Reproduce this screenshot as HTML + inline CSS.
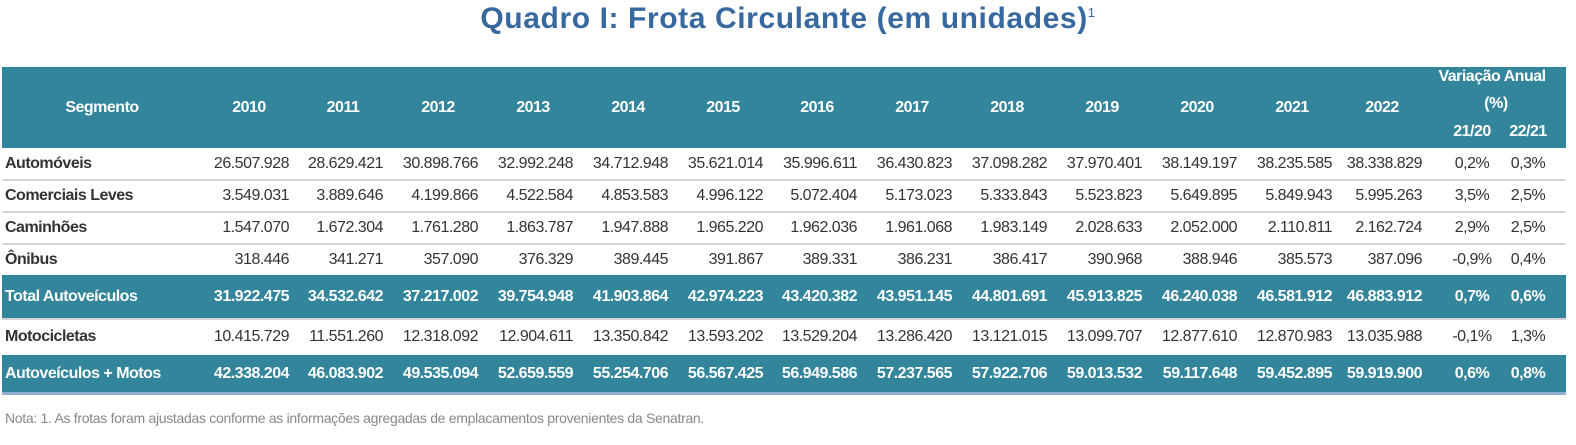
<!DOCTYPE html>
<html><head><meta charset="utf-8">
<style>
body{margin:0;width:1576px;height:445px;background:#fff;position:relative;overflow:hidden;font-family:"Liberation Sans",sans-serif;}
.a{position:absolute;white-space:nowrap;}
.band{position:absolute;left:2px;width:1564px;background:#32859b;}
.sep{position:absolute;left:2px;width:1564px;height:2px;background:#d4d4d4;}
.cell{position:absolute;font-size:16px;line-height:20px;color:#333;letter-spacing:-0.5px;}
</style></head><body>
<div class="a" style="left:0;width:1576px;top:2px;text-align:center;font-size:30px;font-weight:bold;color:#3868a0;letter-spacing:0.6px">Quadro I: Frota Circulante (em unidades)<sup style="font-size:13px;font-weight:normal">1</sup></div>
<div class="band" style="top:67px;height:81px"></div>
<div class="band" style="top:275px;height:43px"></div>
<div class="band" style="top:355px;height:37px"></div>
<div class="a" style="left:2px;width:1564px;top:392px;height:3px;background:#8fb0d0"></div>
<div class="sep" style="top:179px"></div>
<div class="sep" style="top:211px"></div>
<div class="sep" style="top:243px"></div>
<div class="sep" style="top:318px"></div>
<div class="a" style="left:5px;top:410px;font-size:14px;color:#888;letter-spacing:-0.3px">Nota: 1. As frotas foram ajustadas conforme as informações agregadas de emplacamentos provenientes da Senatran.</div>
<div id="tbl"></div>
<script>
const years=["2010","2011","2012","2013","2014","2015","2016","2017","2018","2019","2020","2021","2022"];
const segments=["Automóveis","Comerciais Leves","Caminhões","Ônibus","Total Autoveículos","Motocicletas","Autoveículos + Motos"];
const automoveis=["26.507.928","28.629.421","30.898.766","32.992.248","34.712.948","35.621.014","35.996.611","36.430.823","37.098.282","37.970.401","38.149.197","38.235.585","38.338.829","0,2%","0,3%"];
const comerciais=["3.549.031","3.889.646","4.199.866","4.522.584","4.853.583","4.996.122","5.072.404","5.173.023","5.333.843","5.523.823","5.649.895","5.849.943","5.995.263","3,5%","2,5%"];
const caminhoes=["1.547.070","1.672.304","1.761.280","1.863.787","1.947.888","1.965.220","1.962.036","1.961.068","1.983.149","2.028.633","2.052.000","2.110.811","2.162.724","2,9%","2,5%"];
const onibus=["318.446","341.271","357.090","376.329","389.445","391.867","389.331","386.231","386.417","390.968","388.946","385.573","387.096","-0,9%","0,4%"];
const total=["31.922.475","34.532.642","37.217.002","39.754.948","41.903.864","42.974.223","43.420.382","43.951.145","44.801.691","45.913.825","46.240.038","46.581.912","46.883.912","0,7%","0,6%"];
const motos=["10.415.729","11.551.260","12.318.092","12.904.611","13.350.842","13.593.202","13.529.204","13.286.420","13.121.015","13.099.707","12.877.610","12.870.983","13.035.988","-0,1%","1,3%"];
const grand=["42.338.204","46.083.902","49.535.094","52.659.559","55.254.706","56.567.425","56.949.586","57.237.565","57.922.706","59.013.532","59.117.648","59.452.895","59.919.900","0,6%","0,8%"];
const rows=[automoveis,comerciais,caminhoes,onibus,total,motos,grand];
const rowMid=[164,196,228,260,297,337,374];
const bold=[false,false,false,false,true,false,true];
const white=[false,false,false,false,true,false,true];
const colRight=[289,383,478,573,668,763,857,952,1047,1142,1237,1332,1422];
const pctCenter=[1472,1528];
const T=document.getElementById('tbl');
function mk(txt,x,y,align,w,opts){
  const d=document.createElement('div');
  d.className='a cell';
  d.textContent=txt;
  d.style.top=(y-10)+'px';
  d.style.width=w+'px';
  d.style.textAlign=align;
  d.style.left=(align==='right'?x-w:align==='center'?x-w/2:x)+'px';
  if(opts.bold)d.style.fontWeight='bold';
  if(opts.white)d.style.color='#fff';
  if(opts.size)d.style.fontSize=opts.size+'px';
  T.appendChild(d);return d;
}
let h=mk("Segmento",102,108,'center',120,{bold:1,white:1});


years.forEach((y,i)=>{
  const e=mk(y,colRight[i]-40,108,'center',90,{bold:1,white:1});
  
  
});
h=mk("Variação Anual",1492,77,'center',150,{bold:1,white:1});


h=mk("(%)",1496,104,'center',60,{bold:1,white:1});


["21/20","22/21"].forEach((t,i)=>{
  const e=mk(t,pctCenter[i],132,'center',60,{bold:1,white:1});
  
  
});
segments.forEach((s,r)=>{
  const o={bold:true,white:white[r]};
  const l=mk(s,5,rowMid[r],'left',250,o);
  
  
  rows[r].forEach((v,c)=>{
    const ob={bold:bold[r],white:white[r]};
    let e;
    if(c<13) e=mk(v,colRight[c],rowMid[r],'right',95,ob);
    else e=mk(v,pctCenter[c-13],rowMid[r],'center',60,ob);
    
    
  });
});
</script>
</body></html>
